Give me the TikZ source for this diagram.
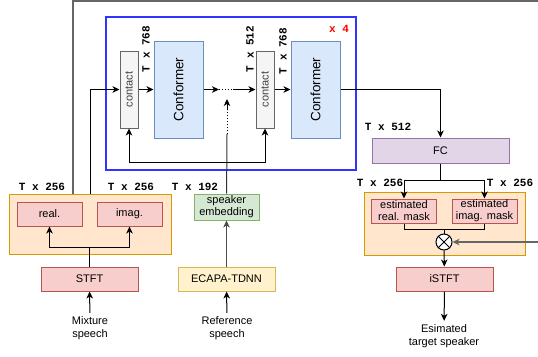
\documentclass[tikz,border=0pt]{standalone}
\usepackage{fontspec}
\setmainfont{Liberation Sans}
\setmonofont{Liberation Mono}
\usepackage{graphicx}
\usetikzlibrary{arrows.meta,positioning,calc}
\definecolor{redfill}{HTML}{F8CECC}
\definecolor{redline}{HTML}{B85450}
\definecolor{orangefill}{HTML}{FFE6CC}
\definecolor{orangeline}{HTML}{D79B00}
\definecolor{bluefill}{HTML}{DAE8FC}
\definecolor{blueline}{HTML}{6C8EBF}
\definecolor{purplefill}{HTML}{E1D5E7}
\definecolor{purpleline}{HTML}{9673A6}
\definecolor{greenfill}{HTML}{D5E8D4}
\definecolor{greenline}{HTML}{82B366}
\definecolor{yellowfill}{HTML}{FFF2CC}
\definecolor{yellowline}{HTML}{D6B656}
\definecolor{greyfill}{HTML}{F5F5F5}
\definecolor{greyline}{HTML}{666666}

\begin{document}
\begin{tikzpicture}[
    x=1pt, y=-1pt,
    font=\fontsize{11}{13}\selectfont,
    block/.style={rectangle, draw, line width=1pt, text centered, align=center, inner sep=0pt},
    redblock/.style={block, fill=redfill, draw=redline},
    group/.style={block, fill=orangefill, draw=orangeline},
    conformer/.style={block, fill=bluefill, draw=blueline, minimum width=49pt, minimum height=97pt, font=\fontsize{13.5}{15}\selectfont},
    contactbox/.style={block, fill=greyfill, draw=greyline, text=black!75, minimum width=18pt, minimum height=77pt},
    caption/.style={align=center},
    dim/.style={font=\fontsize{11}{11}\selectfont\ttfamily\bfseries, inner sep=0pt},
    arrow/.style={-{Stealth[length=7pt,width=6.5pt,inset=2pt]}, line width=1pt},
    line/.style={line width=1pt}
]
    \useasboundingbox (0,0) rectangle (538,356);

    % Repeated encoder block
    \node[block, draw={rgb,255:red,51;green,51;blue,255}, line width=2.5pt, minimum width=250pt, minimum height=153pt] (repeat) at (231,93.5) {};
    \node[dim, text=red] (times) at (339,29) {x 4};
    \node[contactbox] (contact1) at (129,89.5) {\rotatebox{90}{contact}};
    \node[conformer] (conf1) at (178.5,89.5) {\rotatebox{90}{Conformer}};
    \node[contactbox] (contact2) at (265,89.5) {\rotatebox{90}{contact}};
    \node[conformer] (conf2) at (315.5,89.5) {\rotatebox{90}{Conformer}};
    \node[dim, rotate=90] (dim1) at (146,49) {T x 768};
    \node[dim, rotate=90] (dim2) at (250,49) {T x 512};
    \node[dim, rotate=90] (dim3) at (283,51) {T x 768};

    % Mixture branch
    \node[group, minimum width=162pt, minimum height=60pt] (mixgroup) at (90,224) {};
    \node[redblock, minimum width=65pt, minimum height=24pt] (real) at (49.5,214) {real.};
    \node[redblock, minimum width=65pt, minimum height=24pt] (imag) at (129.5,214) {imag.};
    \node[redblock, minimum width=97pt, minimum height=24pt] (stft) at (89.5,279) {STFT};
    \node[caption] (mixture) at (90,328) {Mixture\\speech};
    \node[dim] (dim4) at (42,187) {T x 256};
    \node[dim] (dim5) at (131,187) {T x 256};

    % Speaker branch
    \node[block, fill=greenfill, draw=greenline, minimum width=65pt, minimum height=26pt] (embed) at (226.5,207) {speaker\\[-1pt]embedding};
    \node[block, fill=yellowfill, draw=yellowline, minimum width=97pt, minimum height=24pt] (ecapa) at (226.5,279) {ECAPA-TDNN};
    \node[caption] (reference) at (227,328) {Reference\\speech};
    \node[dim] (dim6) at (195,187) {T x 192};

    % Mask estimation
    \node[block, fill=purplefill, draw=purpleline, minimum width=137pt, minimum height=25pt] (fc) at (440.5,150.5) {FC};
    \node[dim] (dim7) at (388,127) {T x 512};
    \node[group, minimum width=161pt, minimum height=63pt] (maskgroup) at (444.5,223.5) {};
    \node[redblock, minimum width=65pt, minimum height=24pt] (estreal) at (404,211) {estimated\\[-1pt]real. mask};
    \node[redblock, minimum width=65pt, minimum height=24pt] (estimag) at (484.5,211) {estimated\\[-1pt]imag. mask};
    \node[dim] (dim8) at (380,183) {T x 256};
    \node[dim] (dim9) at (510,183) {T x 256};
    \node[circle, draw, fill=white, line width=1pt, minimum size=16pt, inner sep=0pt] (mult) at (444,242) {};
    \draw[line] (mult.north west) -- (mult.south east) (mult.north east) -- (mult.south west);
    \node[redblock, minimum width=97pt, minimum height=24pt] (istft) at (444.5,279) {iSTFT};
    \node[caption] (target) at (444,336) {Esimated\\target speaker};

    % Helper points
    \coordinate (split) at (89.5,247);
    \coordinate (dots1) at (219,89.5);
    \coordinate (dots2) at (233,89.5);
    \coordinate (fb) at (227,162);
    \coordinate (dots3) at (227,134);
    \coordinate (dots4) at (227,110);
    \coordinate (dotsend) at (227,99);
    \coordinate (corner) at (540,1);
    \coordinate (masksplit) at (440.5,180);
    \coordinate (mjoin) at (444,229);

    % Arrows
    \draw[arrow] (mixture) -- (stft);
    \draw[line] (stft) -- (split);
    \draw[arrow] (split) -| (real);
    \draw[arrow] (split) -| (imag);
    \draw[arrow] (mixgroup.north) |- (contact1.west);
    \draw[arrow, greyline, line width=1.5pt] ([xshift=-17pt]mixgroup.north) |- (corner) |- (mult.east);
    \draw[arrow] (contact1) -- (conf1);
    \draw[arrow] (conf1) -- (dots1);
    \draw[line, dotted] (dots1) -- (dots2);
    \draw[arrow] (dots2) -- (contact2);
    \draw[arrow] (contact2) -- (conf2);
    \draw[arrow] (reference) -- (ecapa);
    \draw[arrow, black!70] (ecapa) -- (embed);
    \draw[line, black!80] (embed) -- (dots3);
    \draw[line, dotted] (dots3) -- (dots4);
    \draw[arrow] (dots4) -- (dotsend);
    \draw[arrow] (fb) -| (contact1.south);
    \draw[arrow] (fb) -| (contact2.south);
    \draw[arrow] (conf2.east) -| (fc.north);
    \draw[line] (fc) -- (masksplit);
    \draw[arrow] (masksplit) -| (estreal.north);
    \draw[arrow] (masksplit) -| (estimag.north);
    \draw[line] (estreal.south) |- (mjoin);
    \draw[line] (estimag.south) |- (mjoin);
    \draw[line] (mjoin) -- (mult.north);
    \draw[arrow] (mult) -- (istft);
    \draw[arrow] (istft) -- (target);

\end{tikzpicture}
\end{document}
